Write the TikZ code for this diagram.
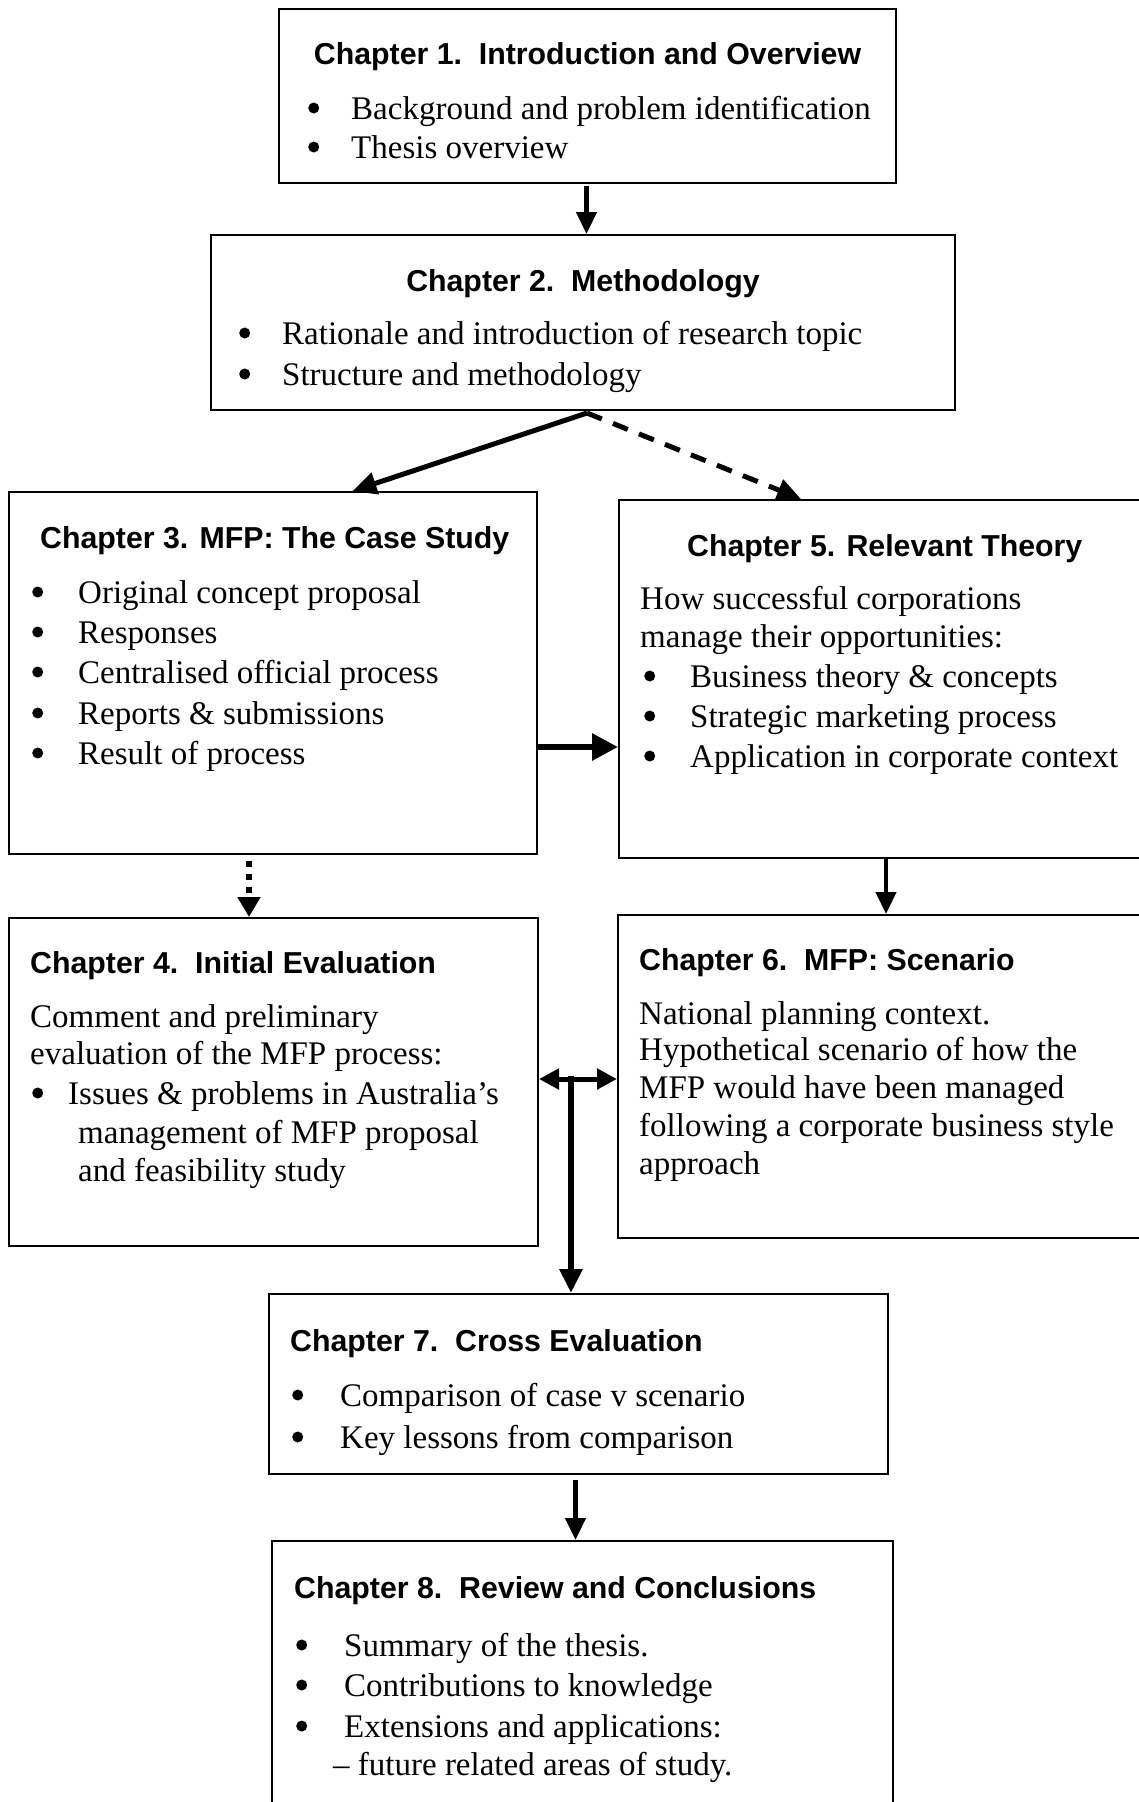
\documentclass[tikz,border=0pt]{standalone}
\usepackage{fontspec}
\setmainfont{Liberation Serif}
\newfontfamily\headfont{Liberation Sans}
\usetikzlibrary{arrows.meta,calc}
\begin{document}
\begin{tikzpicture}[x=1pt,y=-1pt,
  chbox/.style={draw=black,line width=2pt,anchor=north west,inner sep=0pt},
  body/.style={anchor=base west,inner sep=0pt,font=\fontsize{33}{39}\selectfont},
  head/.style={anchor=base west,inner sep=0pt,font=\headfont\bfseries\fontsize{30.3}{36}\selectfont},
  headc/.style={head,anchor=base},
  dot/.style={circle,fill=black,inner sep=0pt,minimum size=11pt,anchor=west,yshift=11pt,xshift=1pt},
  flow/.style={line width=4.5pt,-{Triangle[length=22pt,width=20pt]}},
  flowthick/.style={line width=6pt,-{Triangle[length=26pt,width=26pt]}}]
\useasboundingbox (0,0) rectangle (1139,1802);
\clip (0,0) rectangle (1139,1802);
\fill[white] (0,0) rectangle (1139,1802);

% chapter boxes
\node[chbox,minimum width=617pt,minimum height=174pt] (b1) at (278,8) {};
\node[chbox,minimum width=744pt,minimum height=175pt] (b2) at (210,234) {};
\node[chbox,minimum width=528pt,minimum height=362pt] (b3) at (8,491) {};
\node[chbox,minimum width=540pt,minimum height=358pt] (b5) at (618,499) {};
\node[chbox,minimum width=529pt,minimum height=328pt] (b4) at (8,917) {};
\node[chbox,minimum width=540pt,minimum height=323pt] (b6) at (617,914) {};
\node[chbox,minimum width=619pt,minimum height=180pt] (b7) at (268,1293) {};
\node[chbox,minimum width=621pt,minimum height=290pt] (b8) at (271,1540) {};

% Chapter 1
\node[headc] (h1) at ($(b1.north)+(0,56)$) {Chapter 1.\ \ Introduction and Overview};
\node[dot] (p1a) at (307,119) {};
\node[body] (t1a) at (351,119) {Background and problem identification};
\node[dot] (p1b) at (307,158) {};
\node[body] (t1b) at (351,158) {Thesis overview};

% Chapter 2
\node[headc] (h2) at ($(b2.north)+(0,57)$) {Chapter 2.\ \ Methodology};
\node[dot] (p2a) at (238,344) {};
\node[body] (t2a) at (282,344) {Rationale and introduction of research topic};
\node[dot] (p2b) at (238,385) {};
\node[body] (t2b) at (282,385) {Structure and methodology};

% Chapter 3
\node[head] (h3) at (40,548) {Chapter 3. MFP: The Case Study};
\node[dot] (p3a) at (31,603) {};
\node[body] (t3a) at (78,603) {Original concept proposal};
\node[dot] (p3b) at (31,643) {};
\node[body] (t3b) at (78,643) {Responses};
\node[dot] (p3c) at (31,683) {};
\node[body] (t3c) at (78,683) {Centralised official process};
\node[dot] (p3d) at (31,724) {};
\node[body] (t3d) at (78,724) {Reports \& submissions};
\node[dot] (p3e) at (31,764) {};
\node[body] (t3e) at (78,764) {Result of process};

% Chapter 5
\node[head] (h5) at (687,556) {Chapter 5. Relevant Theory};
\node[body] (t5a) at (640,609) {How successful corporations};
\node[body] (t5b) at (640,647) {manage their opportunities:};
\node[dot] (p5c) at (643,687) {};
\node[body] (t5c) at (690,687) {Business theory \& concepts};
\node[dot] (p5d) at (643,727) {};
\node[body] (t5d) at (690,727) {Strategic marketing process};
\node[dot] (p5e) at (643,767) {};
\node[body] (t5e) at (690,767) {Application in corporate context};

% Chapter 4
\node[head] (h4) at (30,973) {Chapter 4.\ \ Initial Evaluation};
\node[body] (t4a) at (30,1027) {Comment and preliminary};
\node[body] (t4b) at (30,1064) {evaluation of the MFP process:};
\node[dot] (p4c) at (31,1104) {};
\node[body] (t4c) at (68,1104) {Issues \& problems in Australia’s};
\node[body] (t4d) at (78,1143) {management of MFP proposal};
\node[body] (t4e) at (78,1181) {and feasibility study};

% Chapter 6
\node[head] (h6) at (639,970) {Chapter 6.\ \ MFP: Scenario};
\node[body] (t6a) at (639,1024) {National planning context.};
\node[body] (t6b) at (639,1060) {Hypothetical scenario of how the};
\node[body] (t6c) at (639,1098) {MFP would have been managed};
\node[body] (t6d) at (639,1136) {following a corporate business style};
\node[body] (t6e) at (639,1174) {approach};

% Chapter 7
\node[head] (h7) at (290,1351) {Chapter 7.\ \ Cross Evaluation};
\node[dot] (p7a) at (291,1406) {};
\node[body] (t7a) at (340,1406) {Comparison of case v scenario};
\node[dot] (p7b) at (291,1448) {};
\node[body] (t7b) at (340,1448) {Key lessons from comparison};

% Chapter 8
\node[head] (h8) at (294,1598) {Chapter 8.\ \ Review and Conclusions};
\node[dot] (p8a) at (295,1656) {};
\node[body] (t8a) at (344,1656) {Summary of the thesis.};
\node[dot] (p8b) at (295,1696) {};
\node[body] (t8b) at (344,1696) {Contributions to knowledge};
\node[dot] (p8c) at (295,1737) {};
\node[body] (t8c) at (344,1737) {Extensions and applications:};
\node[body] (t8d) at (333,1775) {– future related areas of study.};

% connectors
\coordinate (c2s) at ($(b2.south)+(4,2)$);
\coordinate (c3n) at ($(b3.north west)!0.65!(b3.north east)$);
\coordinate (c5n) at ($(b5.north west)+(183,0)$);
\coordinate (split) at (571,1079);

\draw[flow] ($(b1.south)+(-1,2)$) -- ($(b1.south |- b2.north)+(-1,0)$);
\draw[line width=5pt,-{Triangle[length=24pt,width=22pt]}] (c2s) -- (c3n);
\draw[line width=5pt,dash pattern=on 16pt off 12pt,-{Triangle[length=24pt,width=22pt]}] (c2s) -- (c5n);
\draw[flowthick] (b3.east |- 0,747) -- (b5.west |- 0,747);
\draw[line width=5.5pt,dash pattern=on 6pt off 7pt,-{Triangle[length=20pt,width=22pt]}] ($(b3.south west)+(241,6)$) -- ($(b4.north west)+(241,0)$);
\draw[flow] ($(b5.south west)+(268,0)$) -- ($(b6.north west)+(269,0)$);
\draw[line width=5pt,{Triangle[length=20pt,width=20pt]}-{Triangle[length=20pt,width=20pt]}] (b4.east |- split) -- (b6.west |- split);
\draw[line width=6pt,-{Triangle[length=24pt,width=22pt]}] ($(split)+(0,-3)$) -- (split |- b7.north);
\draw[flow] ($(b7.south)+(-3,5)$) -- ($(b7.south |- b8.north)+(-3,0)$);
\end{tikzpicture}
\end{document}
